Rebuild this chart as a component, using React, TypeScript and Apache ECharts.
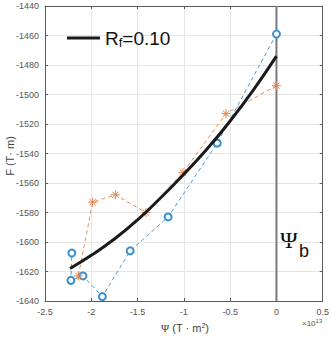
import React, { useEffect, useRef } from "react";
import * as echarts from "echarts";

const blueX = [0, -0.64, -1.17, -1.58, -1.88, -2.09, -2.22, -2.21];
const blueY = [-1459, -1533, -1583, -1606, -1637, -1623, -1626, -1607.5];

const orangeX = [0, -0.545, -1.01, -1.41, -1.74, -1.985, -2.14];
const orangeY = [-1494, -1513, -1553, -1580, -1568, -1573, -1623];

const curveX = [-2.23, -2.0, -1.75, -1.5, -1.25, -1.0, -0.75, -0.5, -0.25, 0];
const curveY = [-1618, -1609, -1598, -1585, -1570, -1554, -1537, -1518, -1497, -1474];

const boundaryX = 0;
const xTicks = { min: -2.5, max: 0.5, interval: 0.5 };
const yTicks = { min: -1640, max: -1440, interval: 20 };

const legendName = "Rf=0.10";

const BLUE = "#3a8fcf";
const ORANGE = "#e0844f";
const AXIS = "#5a5a5a";
const LABEL = "#555555";
const GRIDC = "#e6e6e6";

const ASTERISK =
  "path://M5,0 L5,10 M0,5 L10,5 M1.5,1.5 L8.5,8.5 M1.5,8.5 L8.5,1.5";

export default function App() {
  const ref = useRef<HTMLDivElement>(null);

  useEffect(() => {
    if (!ref.current) return;
    const chart = echarts.init(ref.current, null, { renderer: "svg" });
    const pairs = (xs: number[], ys: number[]) => xs.map((x, i) => [x, ys[i]]);
    const font = "'Liberation Sans', Arial, sans-serif";
    const fmt = (v: number) => String(v);

    const option: any = {
      animation: false,
      backgroundColor: "#ffffff",
      textStyle: { fontFamily: font },
      grid: { left: 45, right: 6, top: 6, bottom: 36, containLabel: false },
      legend: {
        data: [legendName],
        left: 62,
        top: 22,
        itemWidth: 33,
        itemHeight: 3,
        itemGap: 5,
        icon: "rect",
        selectedMode: false,
        formatter: () => "{r|R}{s|f}{r|=0.10}",
        textStyle: {
          color: "#111",
          rich: {
            r: { fontSize: 19, fontFamily: font, color: "#111", lineHeight: 24 },
            s: { fontSize: 13, fontFamily: font, color: "#111", padding: [9, 0, 0, 0], lineHeight: 24 },
          },
        },
      },
      xAxis: [
        {
          type: "value",
          position: "bottom",
          min: xTicks.min,
          max: xTicks.max,
          interval: xTicks.interval,
          axisLine: { show: true, onZero: false, lineStyle: { color: AXIS, width: 1 } },
          axisTick: { show: true, inside: true, length: 3, lineStyle: { color: AXIS } },
          axisLabel: { color: LABEL, fontSize: 9, margin: 6, fontFamily: font, formatter: fmt },
          splitLine: { show: true, lineStyle: { color: GRIDC, width: 1 } },
        },
        {
          type: "value",
          position: "top",
          min: xTicks.min,
          max: xTicks.max,
          interval: xTicks.interval,
          axisLine: { show: true, onZero: false, lineStyle: { color: AXIS, width: 1 } },
          axisTick: { show: true, inside: true, length: 3, lineStyle: { color: AXIS } },
          axisLabel: { show: false },
          splitLine: { show: false },
        },
      ],
      yAxis: [
        {
          type: "value",
          position: "left",
          min: yTicks.min,
          max: yTicks.max,
          interval: yTicks.interval,
          axisLine: { show: true, onZero: false, lineStyle: { color: AXIS, width: 1 } },
          axisTick: { show: true, inside: true, length: 3, lineStyle: { color: AXIS } },
          axisLabel: { color: LABEL, fontSize: 9, margin: 6, fontFamily: font, formatter: fmt },
          splitLine: { show: true, lineStyle: { color: GRIDC, width: 1 } },
        },
        {
          type: "value",
          position: "right",
          min: yTicks.min,
          max: yTicks.max,
          interval: yTicks.interval,
          axisLine: { show: true, onZero: false, lineStyle: { color: AXIS, width: 1 } },
          axisTick: { show: true, inside: true, length: 3, lineStyle: { color: AXIS } },
          axisLabel: { show: false },
          splitLine: { show: false },
        },
      ],
      series: [
        {
          name: "boundary",
          type: "line",
          xAxisIndex: 0,
          yAxisIndex: 0,
          data: [
            [boundaryX, yTicks.min],
            [boundaryX, yTicks.max],
          ],
          symbol: "none",
          lineStyle: { color: "#7a7a7a", width: 2 },
          z: 1,
          silent: true,
        },
        {
          name: "blue",
          type: "line",
          data: pairs(blueX, blueY),
          symbol: "emptyCircle",
          symbolSize: 7,
          itemStyle: { color: BLUE, borderColor: BLUE, borderWidth: 0.8 },
          lineStyle: { color: BLUE, width: 0.9, type: [4, 3] },
          z: 3,
        },
        {
          name: "orange",
          type: "line",
          data: pairs(orangeX, orangeY),
          symbol: ASTERISK,
          symbolSize: 9,
          itemStyle: { color: "none", borderColor: ORANGE, borderWidth: 1 },
          lineStyle: { color: ORANGE, width: 0.9, type: [4, 3] },
          z: 3,
        },
        {
          name: legendName,
          type: "line",
          data: pairs(curveX, curveY),
          smooth: true,
          symbol: "none",
          itemStyle: { color: "#1a1a1a" },
          lineStyle: { color: "#1a1a1a", width: 3 },
          z: 4,
        },
      ],
      graphic: [
        {
          type: "text",
          x: 280,
          y: 228,
          style: { text: "Ψ", fontSize: 24, fontFamily: "'Liberation Serif', 'DejaVu Serif', serif", fill: "#111" },
        },
        {
          type: "text",
          x: 299,
          y: 242,
          style: { text: "b", fontSize: 18, fontFamily: font, fill: "#111" },
        },
        {
          type: "text",
          x: 10,
          y: 156,
          rotation: Math.PI / 2,
          style: {
            text: "F (T· m)",
            fontSize: 11,
            fontFamily: font,
            fill: "#444",
            align: "center",
            verticalAlign: "middle",
          },
        },
        {
          type: "text",
          x: 185,
          y: 328,
          style: {
            text: "{p|Ψ} (T · m{s|2})",
            fontSize: 11,
            fontFamily: font,
            fill: "#444",
            align: "center",
            verticalAlign: "middle",
            rich: {
              p: { fontSize: 11, fontFamily: "'Liberation Serif', serif", fill: "#444" },
              s: { fontSize: 7, fontFamily: font, fill: "#444", padding: [0, 0, 6, 0] },
            },
          },
        },
        {
          type: "text",
          x: 302,
          y: 318,
          style: {
            text: "×10{s|13}",
            fontSize: 8,
            fontFamily: font,
            fill: "#555",
            rich: {
              s: { fontSize: 6, fontFamily: font, fill: "#555", padding: [0, 0, 5, 0] },
            },
          },
        },
      ],
    };
    chart.setOption(option);
    return () => chart.dispose();
  }, []);

  return (
    <div
      ref={ref}
      style={{ position: "absolute", left: 0, top: 0, width: 332, height: 337 }}
    />
  );
}
